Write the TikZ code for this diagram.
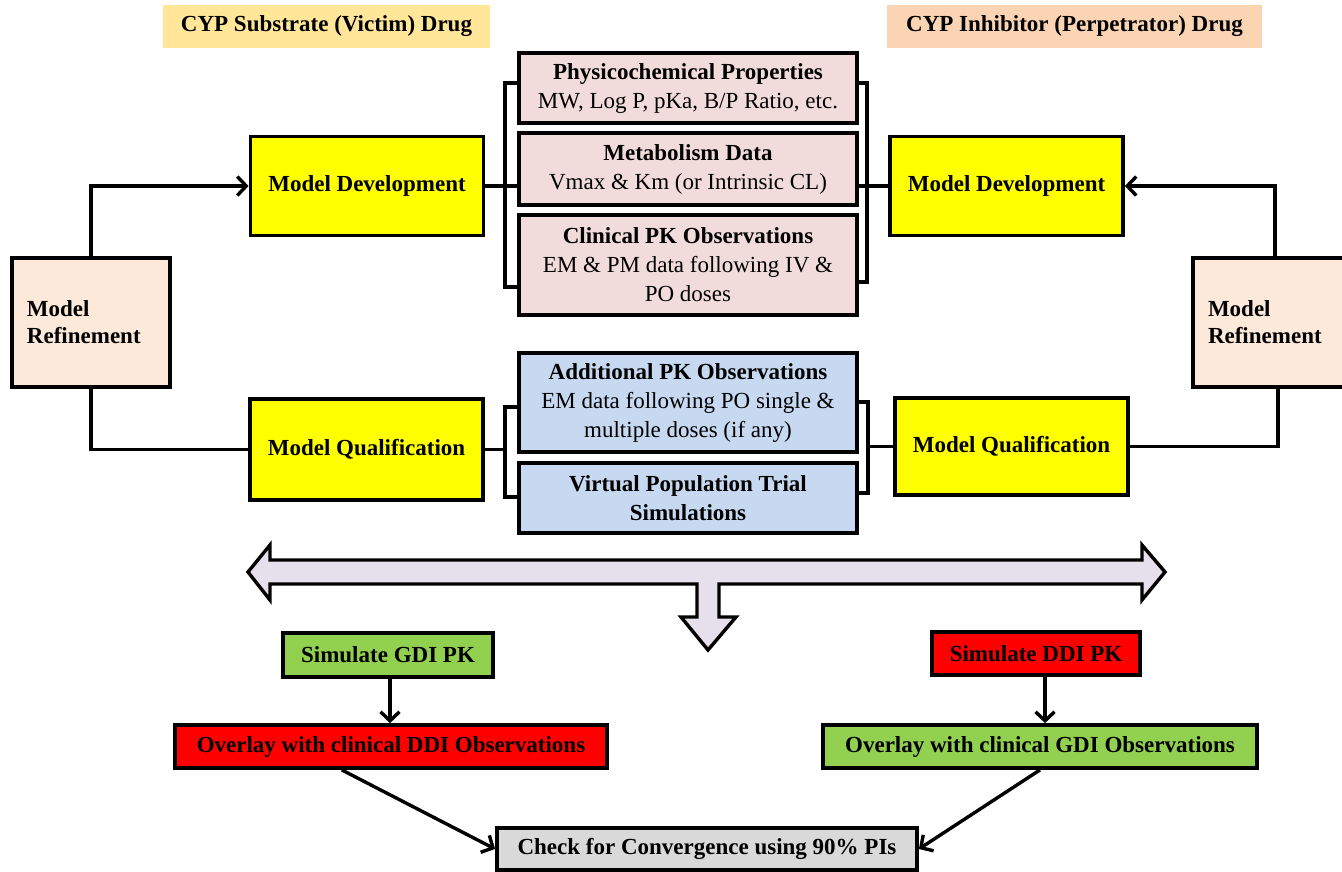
\documentclass[tikz,border=0pt]{standalone}
\usepackage{fontspec}
\setmainfont{Liberation Serif}
\usetikzlibrary{arrows.meta,calc}

\definecolor{hdrgold}{HTML}{FFE699}
\definecolor{hdrpeach}{HTML}{FBD4B4}
\definecolor{pinkfill}{HTML}{F2DCDB}
\definecolor{bluefill}{HTML}{C6D9F1}
\definecolor{refinefill}{HTML}{FDE9D9}
\definecolor{stepyellow}{HTML}{FFFF00}
\definecolor{simgreen}{HTML}{92D050}
\definecolor{simred}{HTML}{FF0000}
\definecolor{checkgray}{HTML}{D9D9D9}
\definecolor{bigarrowfill}{HTML}{E5E0EC}

\newcommand\dfont{\fontsize{23}{29}\selectfont}

\begin{document}
\begin{tikzpicture}[x=1pt,y=-1pt,
  box/.style={draw=black, line width=3.8pt, rectangle, inner sep=0pt,
              align=center, font=\dfont, text=black},
  hdr/.style={rectangle, inner sep=0pt, font=\dfont\bfseries, text=black},
  conn/.style={draw=black, line width=3.4pt, line cap=rect},
  arr/.style={conn, line cap=butt, -{Straight Barb[length=9pt,width=19pt,line width=3.4pt]}},
]
\useasboundingbox (0,0) rectangle (1342,871);

% headers
\node[hdr, fill=hdrgold, minimum width=327, minimum height=43] (hL) at (326.5,26.5)
  {CYP Substrate (Victim) Drug};
\node[hdr, fill=hdrpeach, minimum width=375, minimum height=43] (hR) at (1074.5,26.5)
  {CYP Inhibitor (Perpetrator) Drug};

% input data boxes
\node[box, fill=pinkfill, minimum width=338, minimum height=70] (pp) at (688,88)
  {\textbf{Physicochemical Properties}\\MW, Log P, pKa, B/P Ratio, etc.};
\node[box, fill=pinkfill, minimum width=338, minimum height=72] (md) at (688,169)
  {\textbf{Metabolism Data}\\Vmax \& Km (or Intrinsic CL)};
\node[box, fill=pinkfill, minimum width=338, minimum height=100] (cp) at (688,265)
  {\textbf{Clinical PK Observations}\\EM \& PM data following IV \&\\PO doses};
\node[box, fill=bluefill, minimum width=338, minimum height=99] (ap) at (688,402.5)
  {\textbf{Additional PK Observations}\\EM data following PO single \&\\multiple doses (if any)};
\node[box, fill=bluefill, minimum width=338, minimum height=70] (vp) at (688,498)
  {\textbf{Virtual Population Trial}\\\textbf{Simulations}};

% model steps
\node[box, fill=stepyellow, minimum width=233, minimum height=99, font=\dfont\bfseries] (mdL) at (367,186)
  {Model Development};
\node[box, fill=stepyellow, minimum width=233, minimum height=99, font=\dfont\bfseries] (mdR) at (1006.5,186)
  {Model Development};
\node[box, fill=stepyellow, minimum width=233, minimum height=101, font=\dfont\bfseries] (mqL) at (366.5,449.5)
  {Model Qualification};
\node[box, fill=stepyellow, minimum width=233, minimum height=97, font=\dfont\bfseries] (mqR) at (1011.5,446.5)
  {Model Qualification};

% refinement boxes
\node[box, fill=refinefill, minimum width=158, minimum height=129, text width=128,
      inner xsep=15pt, align=left, font={\fontsize{23}{27}\selectfont\bfseries}] (mrL) at (91,322.5)
  {Model\\Refinement};
\begin{scope}
  \clip (0,0) rectangle (1342,871);
  \node[box, fill=refinefill, minimum width=158, minimum height=129, text width=128,
        inner xsep=15pt, align=left, font={\fontsize{23}{27}\selectfont\bfseries}] (mrR) at (1272,322.5)
    {Model\\Refinement};
\end{scope}

% refinement loops
\coordinate (rtop) at ($(mrR.north west)+(84,0)$);
\coordinate (rbot) at ($(mrR.south west)+(87,0)$);
\draw[arr] (mrL.north) |- (mdL.west);
\draw[conn] (mrL.south) |- (mqL.west);
\draw[arr] (rtop) |- (mdR.east);
\draw[conn] (mqR.east) -| (rbot);

% brackets around the development inputs
\coordinate (lb1) at (505,83);
\coordinate (lb2) at (505,287);
\draw[conn, line cap=butt] (lb1 -| pp.west) -- (lb1) -- (lb2) -- (lb2 -| cp.west);
\draw[conn, line cap=butt] (mdL.east) -- (mdL.east -| md.west);
\coordinate (rb1) at (867,83);
\coordinate (rb2) at (867,282);
\draw[conn, line cap=butt] (rb1 -| pp.east) -- (rb1) -- (rb2) -- (rb2 -| cp.east);
\draw[conn, line cap=butt] (mdR.west) -- (mdR.west -| md.east);

% brackets around the qualification inputs
\coordinate (lb3) at (505,407);
\coordinate (lb4) at (505,497);
\draw[conn, line cap=butt] (lb3 -| ap.west) -- (lb3) -- (lb4) -- (lb4 -| vp.west);
\draw[conn, line cap=butt] (mqL.east) -- (mqL.east -| lb3);
\coordinate (rb3) at (868,402);
\coordinate (rb4) at (868,493);
\draw[conn, line cap=butt] (rb3 -| ap.east) -- (rb3) -- (rb4) -- (rb4 -| vp.east);
\draw[conn, line cap=butt] (mqR.west) -- (mqR.west -| rb3);

% branching block arrow
\draw[line width=3.4pt, fill=bigarrowfill, line join=miter]
  (248,572) -- (270,545) -- (270,560) -- (1142,560) -- (1142,545) -- (1165,572)
  -- (1142,600) -- (1142,584) -- (719,584) -- (719,617) -- (736,617) -- (708,650)
  -- (681,617) -- (697,617) -- (697,584) -- (270,584) -- (270,600) -- cycle;

% simulation steps
\node[box, fill=simgreen, minimum width=210, minimum height=44, font=\dfont\bfseries] (sg) at (388,655)
  {Simulate GDI PK};
\node[box, fill=simred, minimum width=432, minimum height=43, font=\dfont\bfseries] (odL) at (391,746.5)
  {Overlay with clinical DDI Observations};
\node[box, fill=simred, minimum width=208, minimum height=43, font=\dfont\bfseries] (sd) at (1036,653.5)
  {Simulate DDI PK};
\node[box, fill=simgreen, minimum width=434, minimum height=43, font=\dfont\bfseries] (odR) at (1040,746.5)
  {Overlay with clinical GDI Observations};
\node[box, fill=checkgray, minimum width=420, minimum height=42, font=\dfont\bfseries] (ck) at (707,849)
  {Check for Convergence using 90\% PIs};

\coordinate (sgout) at ($(sg.south)+(2,0)$);
\coordinate (sdout) at ($(sd.south)+(9,0)$);
\coordinate (odLout) at ($(odL.south west)!0.387!(odL.south east)$);
\draw[arr] (sgout) -- (sgout |- odL.north);
\draw[arr] (sdout) -- (sdout |- odR.north);
\draw[arr] (odLout) -- (ck.west);
\draw[arr] (odR.south) -- (ck.east);
\end{tikzpicture}
\end{document}
